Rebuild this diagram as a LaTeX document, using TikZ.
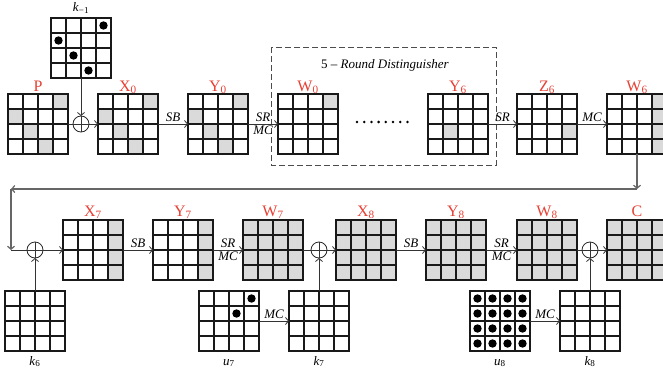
\documentclass[tikz,border=0pt]{standalone}
\usepackage{fontspec}
\setmainfont{Liberation Serif}
\usetikzlibrary{arrows.meta,calc}
\definecolor{lab}{RGB}{232,64,52}
\definecolor{cellg}{RGB}{217,218,217}
\tikzset{
 gbox/.style={minimum size=60pt, inner sep=0pt, outer sep=0pt},
 gline/.style={line width=1.1pt, draw=black!90},
 conn/.style={line width=0.8pt, draw=black!80, -{Straight Barb[length=3pt,width=7pt]}},
 plainline/.style={line width=0.8pt, draw=black!80},
 fback/.style={line width=1.2pt, draw=black!60, -{Straight Barb[length=3pt,width=7pt]}},
 xorc/.style={circle, draw=black!85, line width=0.8pt, minimum size=16pt, inner sep=0pt, outer sep=0pt},
 lbl/.style={text=lab, font=\fontsize{16}{16}\selectfont, anchor=base},
 op/.style={font=\fontsize{13}{13}\selectfont\itshape, inner sep=1.5pt},
 keylbl/.style={font=\fontsize{13}{13}\selectfont, anchor=base},
}
\newcommand\shadecells[2]{\foreach \r/\c in {#2}{\fill[cellg] ($(#1.north west)+(\c*15,\r*15)$) rectangle ++(15,15);}}
\newcommand\shadeall[1]{\fill[cellg] (#1.north west) rectangle (#1.south east);}
\newcommand\dotcells[2]{\foreach \r/\c in {#2}{\fill ($(#1.north west)+(\c*15+7.5,\r*15+7.5)$) circle (4.2);}}
\newcommand\drawgrid[1]{\draw[gline] (#1.north west) rectangle (#1.south east);
 \foreach \i in {1,2,3}{\draw[gline] ($(#1.north west)+(\i*15,0)$) -- ++(0,60); \draw[gline] ($(#1.north west)+(0,\i*15)$) -- ++(60,0);}}
\newcommand\xorsym[1]{\draw[plainline] (#1.north) -- (#1.south) (#1.west) -- (#1.east);}
\begin{document}
\begin{tikzpicture}[x=1pt,y=-1pt]
\useasboundingbox (0,0) rectangle (663,372);
\clip (0,0) rectangle (663,372);
% grid nodes
\node[gbox] (km1) at (81,48) {};
\node[gbox] (P) at (38,124) {};
\node[gbox] (X0) at (128,124) {};
\node[gbox] (Y0) at (218,124) {};
\node[gbox] (W0) at (308,124) {};
\node[gbox] (Y6) at (458,124) {};
\node[gbox] (Z6) at (547,124) {};
\node[gbox] (W6) at (637,124) {};
\node[gbox] (X7) at (93,250) {};
\node[gbox] (Y7) at (183,250) {};
\node[gbox] (W7) at (273,250) {};
\node[gbox] (X8) at (366,250) {};
\node[gbox] (Y8) at (456,250) {};
\node[gbox] (W8) at (547,250) {};
\node[gbox] (C) at (637,250) {};
\node[gbox] (k6) at (35,321) {};
\node[gbox] (u7) at (229,321) {};
\node[gbox] (k7) at (319,321) {};
\node[gbox] (u8) at (500,321) {};
\node[gbox] (k8) at (590,321) {};
% shading
\shadecells{P}{0/3,1/0,2/1,3/2}
\shadecells{X0}{0/3,1/0,2/1,3/2}
\shadecells{Y0}{0/3,1/0,2/1,3/2}
\shadecells{W0}{0/3}
\shadecells{Y6}{2/1}
\shadecells{Z6}{2/3}
\shadecells{W6}{0/3,1/3,2/3,3/3}
\shadecells{X7}{0/3,1/3,2/3,3/3}
\shadecells{Y7}{0/3,1/3,2/3,3/3}
\shadeall{W7}\shadeall{X8}\shadeall{Y8}\shadeall{W8}\shadeall{C}
% grid lines
\foreach \g in {km1,P,X0,Y0,W0,Y6,Z6,W6,X7,Y7,W7,X8,Y8,W8,C,k6,u7,k7,u8,k8}{\drawgrid{\g}}
% dots
\dotcells{km1}{0/3,1/0,2/1,3/2}
\dotcells{u7}{0/3,1/2}
\dotcells{u8}{0/0,0/1,0/2,0/3,1/0,1/1,1/2,1/3,2/0,2/1,2/2,2/3,3/0,3/1,3/2,3/3}
% state labels
\node[lbl] (lP) at (38,91) {P};
\node[lbl] (lX0) at (128,91) {X\textsubscript{0}};
\node[lbl] (lY0) at (218,91) {Y\textsubscript{0}};
\node[lbl] (lW0) at (308,91) {W\textsubscript{0}};
\node[lbl] (lY6) at (458,91) {Y\textsubscript{6}};
\node[lbl] (lZ6) at (547,91) {Z\textsubscript{6}};
\node[lbl] (lW6) at (637,91) {W\textsubscript{6}};
\node[lbl] (lX7) at (93,216) {X\textsubscript{7}};
\node[lbl] (lY7) at (183,216) {Y\textsubscript{7}};
\node[lbl] (lW7) at (273,216) {W\textsubscript{7}};
\node[lbl] (lX8) at (366,216) {X\textsubscript{8}};
\node[lbl] (lY8) at (456,216) {Y\textsubscript{8}};
\node[lbl] (lW8) at (547,216) {W\textsubscript{8}};
\node[lbl] (lC) at (637,216) {C};
% key labels
\node[keylbl] (lkm1) at (81,12) {\textit{k}\textsubscript{−1}};
\node[keylbl] (lk6) at (35,365) {\textit{k}\textsubscript{6}};
\node[keylbl] (lu7) at (229,365) {\textit{u}\textsubscript{7}};
\node[keylbl] (lk7) at (319,365) {\textit{k}\textsubscript{7}};
\node[keylbl] (lu8) at (500,365) {\textit{u}\textsubscript{8}};
\node[keylbl] (lk8) at (590,365) {\textit{k}\textsubscript{8}};
% xor nodes
\node[xorc] (x1) at (81,124) {};
\node[xorc] (x2) at (35,250) {};
\node[xorc] (x3) at (319,250) {};
\node[xorc] (x4) at (590,250) {};
\foreach \x in {x1,x2,x3,x4}{\xorsym{\x}}
% distinguisher box
\draw[dashed, dash pattern=on 6pt off 3pt, line width=0.9pt, black!70] (271,47) rectangle (496,165);
\node[font=\fontsize{13}{13}\selectfont] (dist) at (385,65) {5 – \textit{Round Distinguisher}};
\foreach \i in {0,...,7}{\fill (357+\i*7.2,122) circle (1.4);}
% top row connectors
\draw[plainline] (P.east) -- (x1.west);
\draw[conn] (km1.south) -- (x1.north);
\draw[conn] (x1.east) -- (X0.west);
\draw[conn] (X0.east) -- node[op, above] (sb1) {SB} (Y0.west);
\draw[conn] (Y0.east) -- node[op, above] (sr1) {SR} node[op, below] (mc1) {MC} (W0.west);
\draw[conn] (Y6.east) -- node[op, above] (sr2) {SR} (Z6.west);
\draw[conn] (Z6.east) -- node[op, above] (mc2) {MC} (W6.west);
% feedback
\coordinate (c1) at (637,189);
\coordinate (c2) at (11,189);
\coordinate (c3) at (11,250);
\draw[fback] (W6.south) -- (c1);
\draw[fback] (c1) -- (c2);
\draw[fback] (c2) -- (c3);
\draw[plainline] (c3) -- (x2.west);
% bottom row connectors
\draw[conn] (k6.north) -- (x2.south);
\draw[conn] (x2.east) -- (X7.west);
\draw[conn] (X7.east) -- node[op, above] (sb2) {SB} (Y7.west);
\draw[conn] (Y7.east) -- node[op, above] (sr3) {SR} node[op, below] (mc3) {MC} (W7.west);
\draw[plainline] (W7.east) -- (x3.west);
\draw[conn] (k7.north) -- (x3.south);
\draw[conn] (x3.east) -- (X8.west);
\draw[conn] (X8.east) -- node[op, above] (sb3) {SB} (Y8.west);
\draw[conn] (Y8.east) -- node[op, above] (sr4) {SR} node[op, below] (mc4) {MC} (W8.west);
\draw[plainline] (W8.east) -- (x4.west);
\draw[conn] (k8.north) -- (x4.south);
\draw[conn] (x4.east) -- (C.west);
\draw[conn] (u7.east) -- node[op, above] (mc5) {MC} (k7.west);
\draw[conn] (u8.east) -- node[op, above] (mc6) {MC} (k8.west);
\end{tikzpicture}
\end{document}
